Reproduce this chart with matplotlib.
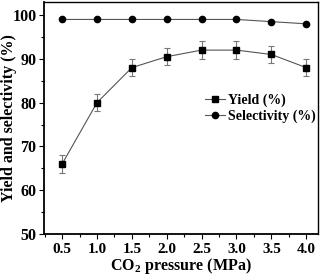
import matplotlib
matplotlib.use("Agg")
import matplotlib.pyplot as plt
from matplotlib.lines import Line2D
from matplotlib.ticker import MultipleLocator

plt.rcParams['font.family'] = ['Liberation Serif', 'DejaVu Serif']
plt.rcParams['font.weight'] = 'bold'
plt.rcParams['mathtext.fontset'] = 'custom'
plt.rcParams['mathtext.rm'] = 'Liberation Serif:bold'
plt.rcParams['mathtext.bf'] = 'Liberation Serif:bold'

pressure = [0.5, 1.0, 1.5, 2.0, 2.5, 3.0, 3.5, 4.0]
yield_pct = [66, 80, 88, 90.5, 92, 92, 91, 88]
yield_err = [2, 2, 2, 2, 2, 2, 2, 2]
selectivity = [99, 99, 99, 99, 99, 99, 98.5, 98]

fig = plt.figure(figsize=(3.21, 2.76), dpi=100)
ax = fig.add_axes([0.137, 0.152, 0.854, 0.841])

ax.errorbar(pressure, yield_pct, yerr=yield_err, color='#555555', lw=0.8,
            marker='s', ms=4.5, mfc='black', mec='black', ecolor='#777777',
            elinewidth=0.8, capsize=2, capthick=0.8)
sel, = ax.plot(pressure, selectivity, color='#555555', lw=0.8, marker='o', ms=4.5,
               mfc='black', mec='black', label='Selectivity (%)')
# legend entry for yield without the error bar
yld = Line2D([], [], color='#555555', lw=0.8, marker='s', ms=4.5,
             mfc='black', mec='black', label='Yield (%)')

ax.set_xlim(0.24, 4.17)
ax.set_ylim(50, 103)
ax.set_xticks(pressure)
ax.set_xticklabels(['%.1f' % p for p in pressure])
ax.xaxis.set_minor_locator(MultipleLocator(0.25))
ax.yaxis.set_major_locator(MultipleLocator(10))
ax.yaxis.set_minor_locator(MultipleLocator(5))
ax.tick_params(which='major', length=3.5, width=0.8, pad=3)
ax.tick_params(axis='x', labelsize=11)
ax.tick_params(axis='y', labelsize=11.5, pad=2)
ax.tick_params(which='minor', length=2, width=0.8)
for s in ax.spines.values():
    s.set_linewidth(1.0)
ax.spines['left'].set_linewidth(1.3)
ax.spines['bottom'].set_linewidth(1.3)

ax.set_xlabel('CO$_{2}$ pressure (MPa)', fontsize=11.5, fontweight='bold')
ax.set_ylabel('Yield and selectivity (%)', fontsize=11.5, fontweight='bold')
ax.xaxis.set_label_coords(0.5, -0.095)
ax.yaxis.set_label_coords(-0.097, 0.5)

ax.legend(handles=[yld, sel], loc='upper left', bbox_to_anchor=(0.589, 0.605),
          frameon=False, fontsize=10, handlelength=1.4, handletextpad=0.2,
          labelspacing=0.2, borderpad=0, borderaxespad=0)

fig.savefig('out.png', dpi=100)
